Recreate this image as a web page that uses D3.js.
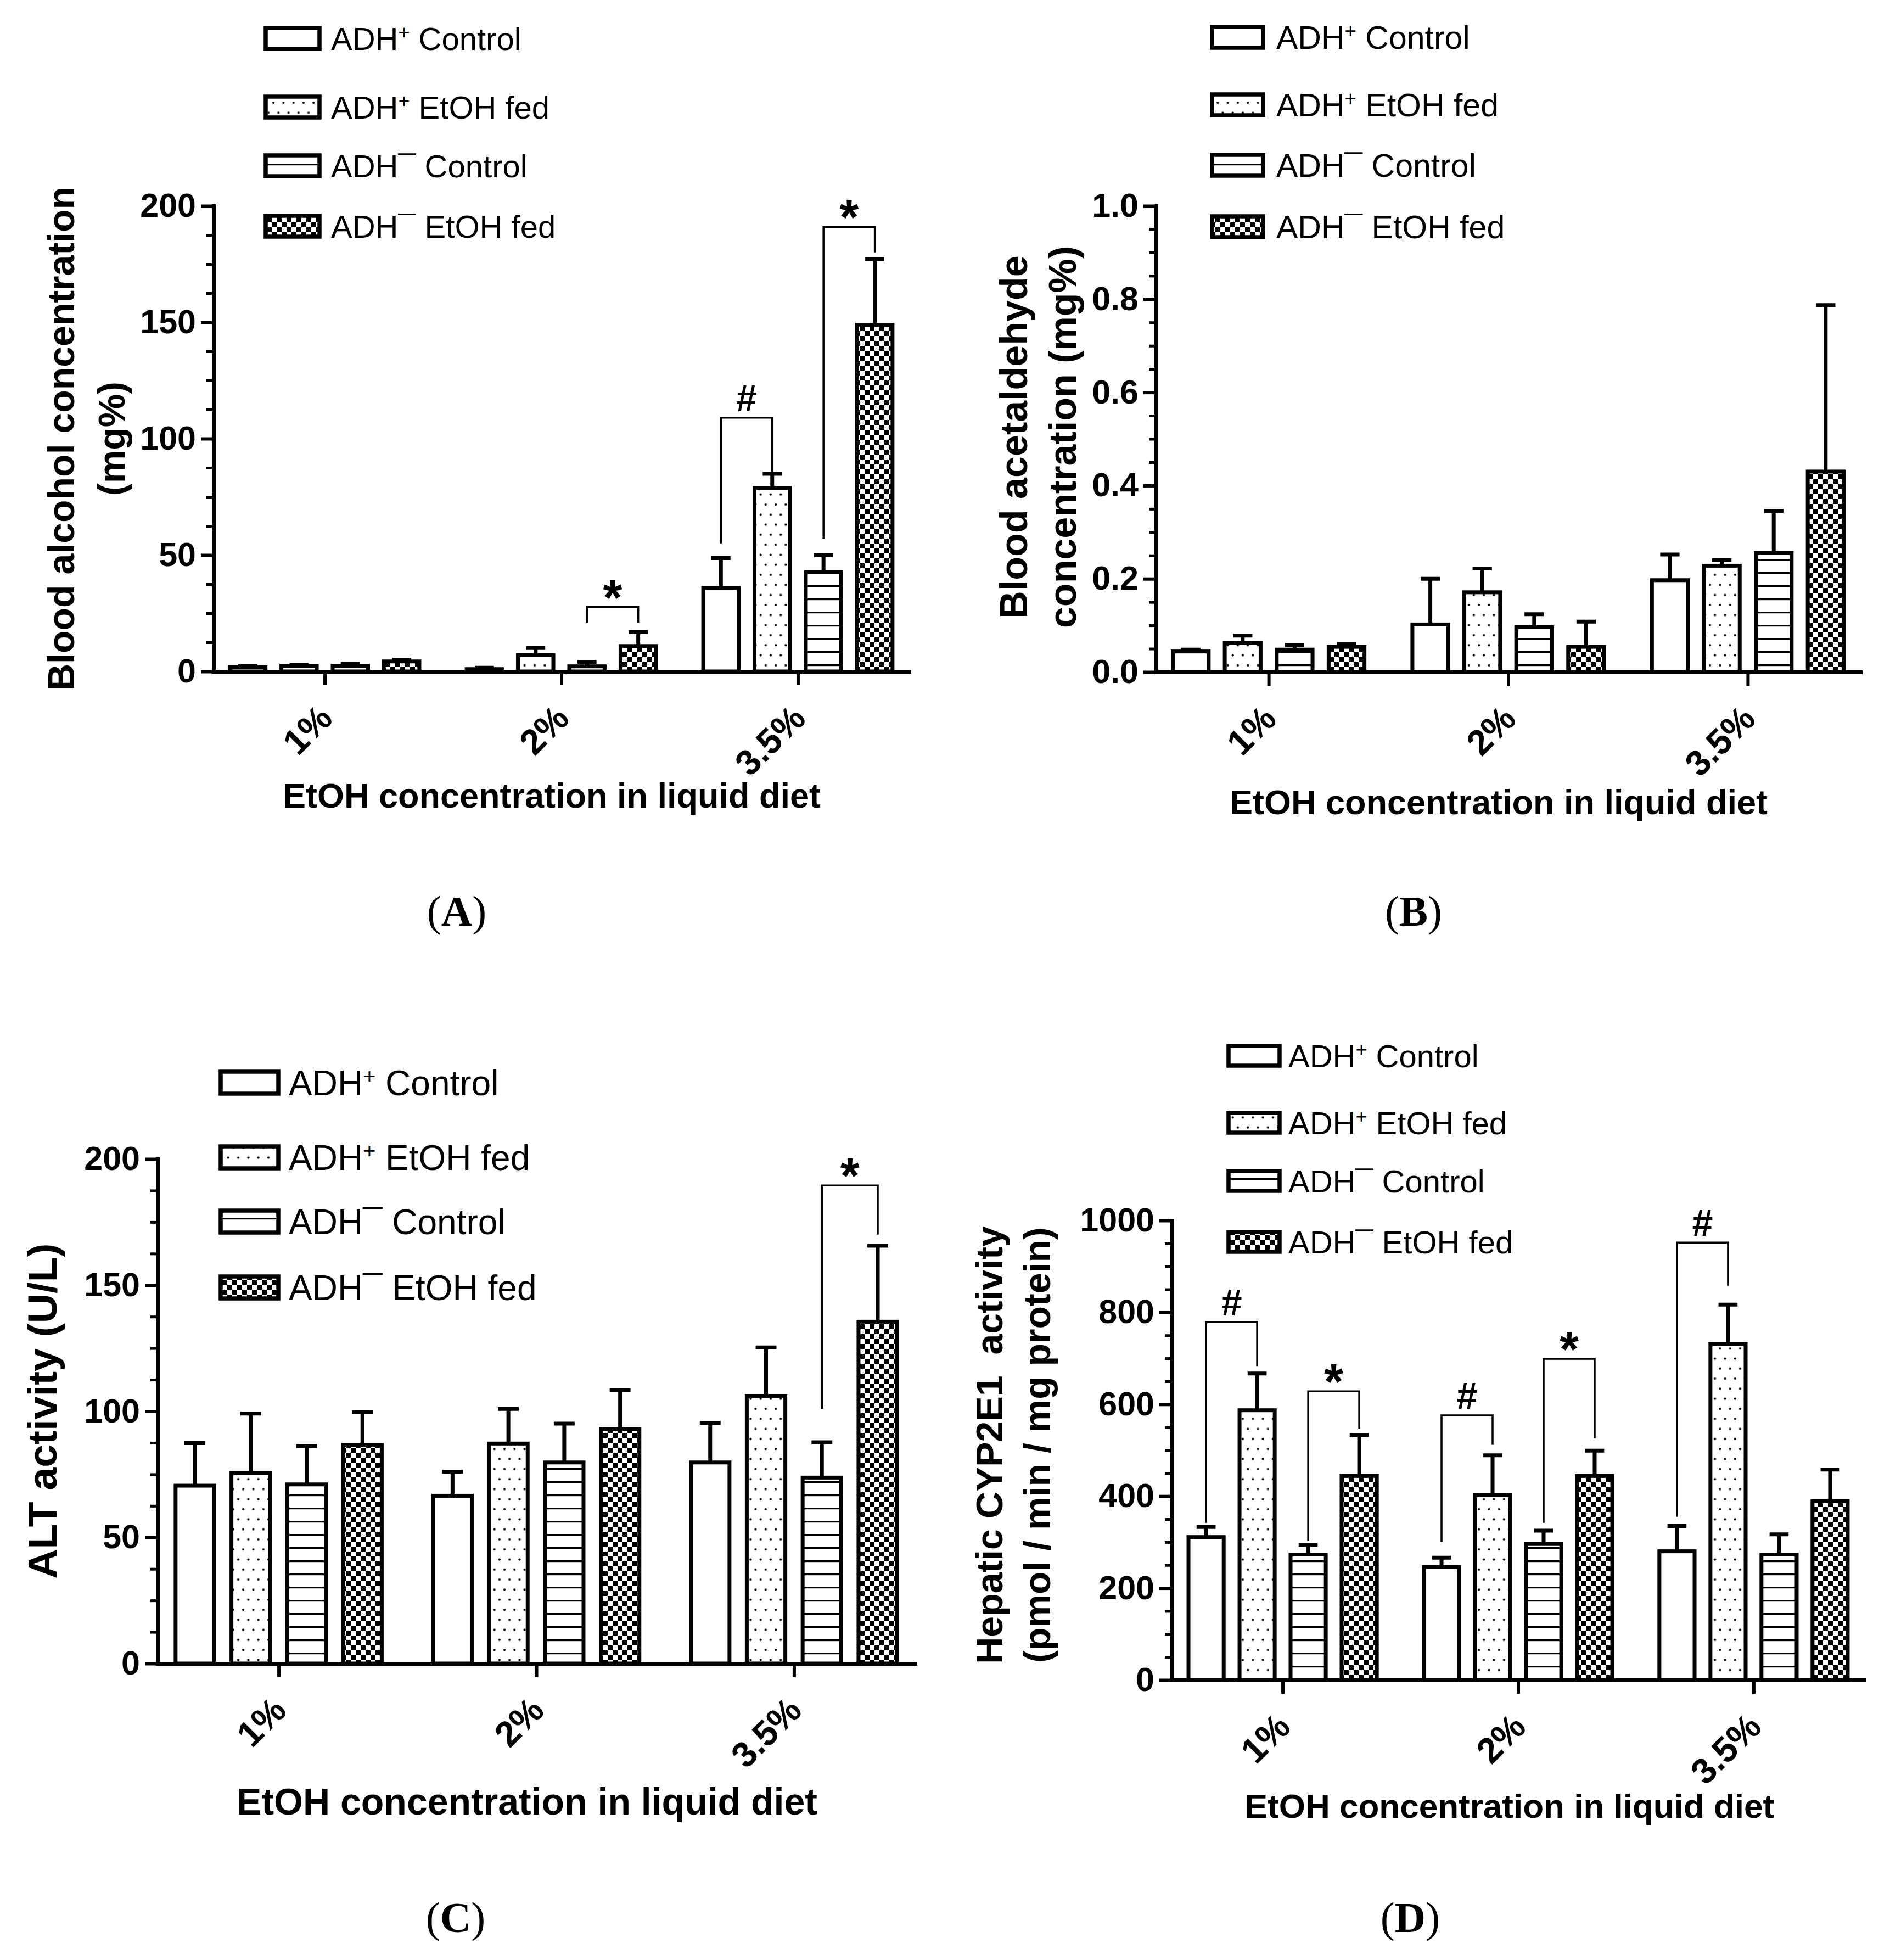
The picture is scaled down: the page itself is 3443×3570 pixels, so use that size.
<!DOCTYPE html>
<html>
<head>
<meta charset="utf-8">
<script src="https://cdn.jsdelivr.net/npm/d3@7"></script>
<style>
  body { margin: 0; background: #fff; }
  svg { display: block; }
  text { white-space: pre; }
</style>
</head>
<body>
<svg id="chart"></svg>
<script>
const W = 3443, H = 3570;
const SANS = "'Liberation Sans', Arial, Helvetica, sans-serif";
const SERIF = "'Liberation Serif', 'Times New Roman', serif";

// categories
const groups = ["1%", "2%", "3.5%"];
const seriesNames = ["ADH+ Control", "ADH+ EtOH fed", "ADH- Control", "ADH- EtOH fed"];

// (A) blood alcohol, mg%  -- rows = groups, cols = series
const alcoholMean = [[1.8, 2.4, 2.4, 4.3], [1.0, 7.0, 2.2, 10.9], [35.9, 78.9, 42.7, 148.9]];
const alcoholErr  = [[0.5, 0.4, 0.8, 0.7], [0.6, 3.1, 1.9, 6.0], [12.8, 6.0, 7.2, 28.2]];

// (B) blood acetaldehyde, mg%
const acetMean = [[0.044, 0.062, 0.048, 0.054], [0.102, 0.171, 0.096, 0.054], [0.197, 0.228, 0.255, 0.430]];
const acetErr  = [[0.004, 0.016, 0.010, 0.006], [0.098, 0.051, 0.028, 0.054], [0.055, 0.012, 0.090, 0.357]];

// (C) ALT activity, U/L
const altMean = [[70.5, 75.5, 71.0, 86.7], [66.5, 87.2, 79.7, 92.9], [79.7, 106.1, 73.7, 135.5]];
const altErr  = [[16.9, 23.6, 15.2, 12.9], [9.5, 13.7, 15.4, 15.4], [15.7, 19.2, 14.0, 30.1]];

// (D) hepatic CYP2E1 activity
const cypMean = [[311, 587, 273, 444], [246, 402, 296, 444], [280, 731, 273, 389]];
const cypErr  = [[22, 80, 21, 89], [20, 87, 29, 55], [55, 86, 44, 69]];

// significance brackets: [group, from series, to series, bar level, left end, right end, mark]
const alcoholMarks = [[1, 2, 3, 27.7, 21, 21, "*"], [2, 0, 1, 109, 55, 85, "#"], [2, 2, 3, 191, 57, 180, "*"]];
const acetMarks = [];
const altMarks = [[2, 2, 3, 189.5, 101, 170, "*"]];
const cypMarks = [[0, 0, 1, 779, 342, 683, "#"], [0, 2, 3, 628, 303, 546, "*"],
                  [1, 0, 1, 576, 300, 512, "#"], [1, 2, 3, 699, 342, 526, "*"],
                  [2, 0, 1, 952, 355, 858, "#"]];

const svg = d3.select("#chart").attr("width", W).attr("height", H);
svg.append("rect").attr("width", W).attr("height", H).attr("fill", "#fff");

// bar fill patterns
const defs = svg.append("defs");
const pDots = defs.append("pattern").attr("id", "dots").attr("patternUnits", "userSpaceOnUse")
  .attr("width", 18.3).attr("height", 36.6);
pDots.append("rect").attr("width", 18.3).attr("height", 36.6).attr("fill", "#fff");
pDots.append("circle").attr("cx", 4).attr("cy", 4).attr("r", 2.1).attr("fill", "#000");
pDots.append("circle").attr("cx", 13.15).attr("cy", 22.3).attr("r", 2.1).attr("fill", "#000");

const pLines = defs.append("pattern").attr("id", "hlines").attr("patternUnits", "userSpaceOnUse")
  .attr("width", 10).attr("height", 24);
pLines.append("rect").attr("width", 10).attr("height", 24).attr("fill", "#fff");
pLines.append("rect").attr("y", 10).attr("width", 10).attr("height", 3.2).attr("fill", "#000");

const pCheck = defs.append("pattern").attr("id", "checker").attr("patternUnits", "userSpaceOnUse")
  .attr("width", 18).attr("height", 18);
pCheck.append("rect").attr("width", 18).attr("height", 18).attr("fill", "#fff");
pCheck.append("rect").attr("width", 9).attr("height", 9).attr("fill", "#000");
pCheck.append("rect").attr("x", 9).attr("y", 9).attr("width", 9).attr("height", 9).attr("fill", "#000");

const fills = ["#fff", "url(#dots)", "url(#hlines)", "url(#checker)"];

const panels = [
  { mean: alcoholMean, err: alcoholErr, marks: alcoholMarks,
    x0: 389, x1: 1656, y0: 1223, yTop: 375, max: 200, major: 50, minor: 12.5, fmt: d3.format("d"),
    legend: { lx: 484, lw: 98, lh: 38, tx: 603, rows: [70, 195, 302, 412], fs: 58 },
    ytitle: { lines: ["Blood alcohol concentration", "(mg%)"], xs: [111, 203], cy: 799, fs: 68 },
    xtitle: { x: 1005, y: 1449, fs: 63 },
    tag: { text: "A", x: 832, y: 1659 } },
  { mean: acetMean, err: acetErr, marks: acetMarks,
    x0: 2106, x1: 3389, y0: 1224, yTop: 375, max: 1.0, major: 0.2, minor: 0.05, fmt: d3.format(".1f"),
    legend: { lx: 2208, lw: 93, lh: 38, tx: 2325, rows: [68, 191, 301, 413], fs: 59 },
    ytitle: { lines: ["Blood acetaldehyde", "concentration (mg%)"], xs: [1847, 1936], cy: 796, fs: 70 },
    xtitle: { x: 2730, y: 1461, fs: 63 },
    tag: { text: "B", x: 2575, y: 1659 } },
  { mean: altMean, err: altErr, marks: altMarks,
    x0: 287, x1: 1667, y0: 3030, yTop: 2111, max: 200, major: 50, minor: 12.5, fmt: d3.format("d"),
    legend: { lx: 402, lw: 105, lh: 40, tx: 526, rows: [1972, 2108, 2225, 2345], fs: 64 },
    ytitle: { lines: ["ALT activity (U/L)"], xs: [77], cy: 2570, fs: 75 },
    xtitle: { x: 960, y: 3281, fs: 68 },
    tag: { text: "C", x: 830, y: 3492 } },
  { mean: cypMean, err: cypErr, marks: cypMarks,
    x0: 2135, x1: 3396, y0: 3060, yTop: 2223, max: 1000, major: 200, minor: 50, fmt: d3.format("d"),
    legend: { lx: 2238, lw: 93, lh: 36, tx: 2347, rows: [1923, 2045, 2151, 2262], fs: 58 },
    ytitle: { lines: ["Hepatic CYP2E1  activity", "(pmol / min / mg protein)"], xs: [1802, 1889], cy: 2632, fs: 68 },
    xtitle: { x: 2750, y: 3289, fs: 62 },
    tag: { text: "D", x: 2569, y: 3492 } }
];

panels.forEach(drawPanel);

function drawPanel(p) {
  const g = svg.append("g");

  const x = d3.scalePoint().domain(groups).range([p.x0, p.x1]).padding(0.47);
  const step = x.step();
  const xs = d3.scaleBand().domain(d3.range(seriesNames.length))
    .range([-0.4 * step, 0.4 * step]).paddingInner(0.31);
  const bw = xs.bandwidth();
  const y = d3.scaleLinear().domain([0, p.max]).range([p.y0, p.yTop]);

  const rows = [];
  groups.forEach((grp, gi) => {
    seriesNames.forEach((s, si) => {
      rows.push({ grp, si, v: p.mean[gi][si], e: p.err[gi][si] });
    });
  });
  const cx = d => x(d.grp) + xs(d.si) + bw / 2;

  // error bars (upper only)
  const eb = g.append("g").attr("stroke", "#000").attr("stroke-width", 7);
  eb.selectAll("line.v").data(rows).join("line").attr("class", "v")
    .attr("x1", cx).attr("x2", cx)
    .attr("y1", d => y(d.v)).attr("y2", d => y(d.v + d.e));
  eb.selectAll("line.c").data(rows).join("line").attr("class", "c")
    .attr("x1", d => cx(d) - bw * 0.27).attr("x2", d => cx(d) + bw * 0.27)
    .attr("y1", d => y(d.v + d.e)).attr("y2", d => y(d.v + d.e));

  // bars
  g.append("g").selectAll("rect").data(rows).join("rect")
    .attr("x", d => x(d.grp) + xs(d.si))
    .attr("y", d => y(d.v))
    .attr("width", bw)
    .attr("height", d => y(0) - y(d.v))
    .attr("fill", d => fills[d.si])
    .attr("stroke", "#000")
    .attr("stroke-width", 7);

  // y axis, major + minor ticks
  const majors = d3.range(0, p.max + p.major / 2, p.major);
  const minors = d3.range(0, p.max + p.minor / 2, p.minor)
    .filter(v => majors.every(m => Math.abs(m - v) > 1e-9));

  const gy = g.append("g").attr("transform", `translate(${p.x0},0)`)
    .call(d3.axisLeft(y).tickValues(majors).tickSize(23).tickSizeOuter(0).tickPadding(9).tickFormat(p.fmt));
  gy.attr("font-family", SANS).attr("font-size", 61).attr("font-weight", "bold");
  gy.select(".domain").attr("stroke-width", 7).attr("stroke-linecap", "square");
  gy.selectAll(".tick line").attr("stroke-width", 6);
  gy.selectAll(".tick text").attr("fill", "#000");

  g.append("g").attr("transform", `translate(${p.x0},0)`)
    .call(d3.axisLeft(y).tickValues(minors).tickSize(13).tickFormat(""))
    .call(a => a.select(".domain").remove())
    .selectAll(".tick line").attr("stroke-width", 5);

  // x axis
  const gx = g.append("g").attr("transform", `translate(0,${p.y0})`)
    .call(d3.axisBottom(x).tickSize(25).tickSizeOuter(0));
  gx.attr("font-family", SANS).attr("font-size", 65).attr("font-weight", "bold");
  gx.select(".domain").attr("stroke-width", 7).attr("stroke-linecap", "square");
  gx.selectAll(".tick line").attr("stroke-width", 6);
  gx.selectAll(".tick text")
    .attr("fill", "#000")
    .attr("x", 0).attr("y", 0).attr("dy", "0.35em")
    .attr("text-anchor", "end")
    .attr("transform", "translate(1,73) rotate(-45)");

  // significance brackets
  const mk = g.append("g");
  p.marks.forEach(([gi, a, b, lvl, lo, hi, sym]) => {
    const xa = x(groups[gi]) + xs(a) + bw / 2;
    const xb = x(groups[gi]) + xs(b) + bw / 2;
    mk.append("path")
      .attr("d", `M${xa},${y(lo)}V${y(lvl)}H${xb}V${y(hi)}`)
      .attr("fill", "none").attr("stroke", "#000").attr("stroke-width", 3.5);
    mk.append("text")
      .attr("x", (xa + xb) / 2)
      .attr("y", y(lvl) + (sym === "*" ? 14 : -12))
      .attr("text-anchor", "middle")
      .attr("font-family", SANS).attr("font-weight", "bold")
      .attr("font-size", sym === "*" ? 90 : 68)
      .text(sym);
  });

  // legend
  const L = p.legend;
  const lg = g.append("g");
  seriesNames.forEach((s, i) => {
    const cy = L.rows[i];
    lg.append("rect")
      .attr("x", L.lx).attr("y", cy - L.lh / 2)
      .attr("width", L.lw).attr("height", L.lh)
      .attr("fill", fills[i]).attr("stroke", "#000").attr("stroke-width", 7.5);
    const t = lg.append("text")
      .attr("x", L.tx).attr("y", cy + L.fs * 0.36)
      .attr("font-family", SANS).attr("font-size", L.fs).attr("fill", "#000");
    const plus = s.startsWith("ADH+");
    const rest = s.slice(4);
    t.append("tspan").text("ADH");
    if (plus) {
      t.append("tspan").attr("baseline-shift", "super").attr("font-size", L.fs * 0.62).text("+");
      t.append("tspan").text(rest);
    } else {
      t.append("tspan").text("\u00AF" + rest);
    }
  });

  // axis titles
  p.ytitle.lines.forEach((line, i) => {
    g.append("text")
      .attr("transform", `translate(${p.ytitle.xs[i]},${p.ytitle.cy}) rotate(-90)`)
      .attr("text-anchor", "middle").attr("dominant-baseline", "central")
      .attr("font-family", SANS).attr("font-weight", "bold").attr("font-size", p.ytitle.fs)
      .text(line);
  });

  g.append("text")
    .attr("x", p.xtitle.x).attr("y", p.xtitle.y)
    .attr("text-anchor", "middle").attr("dominant-baseline", "central")
    .attr("font-family", SANS).attr("font-weight", "bold").attr("font-size", p.xtitle.fs)
    .text("EtOH concentration in liquid diet");

  // panel tag
  const tg = g.append("text")
    .attr("x", p.tag.x).attr("y", p.tag.y)
    .attr("text-anchor", "middle").attr("dominant-baseline", "central")
    .attr("font-family", SERIF).attr("font-size", 78);
  tg.append("tspan").text("(");
  tg.append("tspan").attr("font-weight", "bold").text(p.tag.text);
  tg.append("tspan").text(")");
}
</script>
</body>
</html>
